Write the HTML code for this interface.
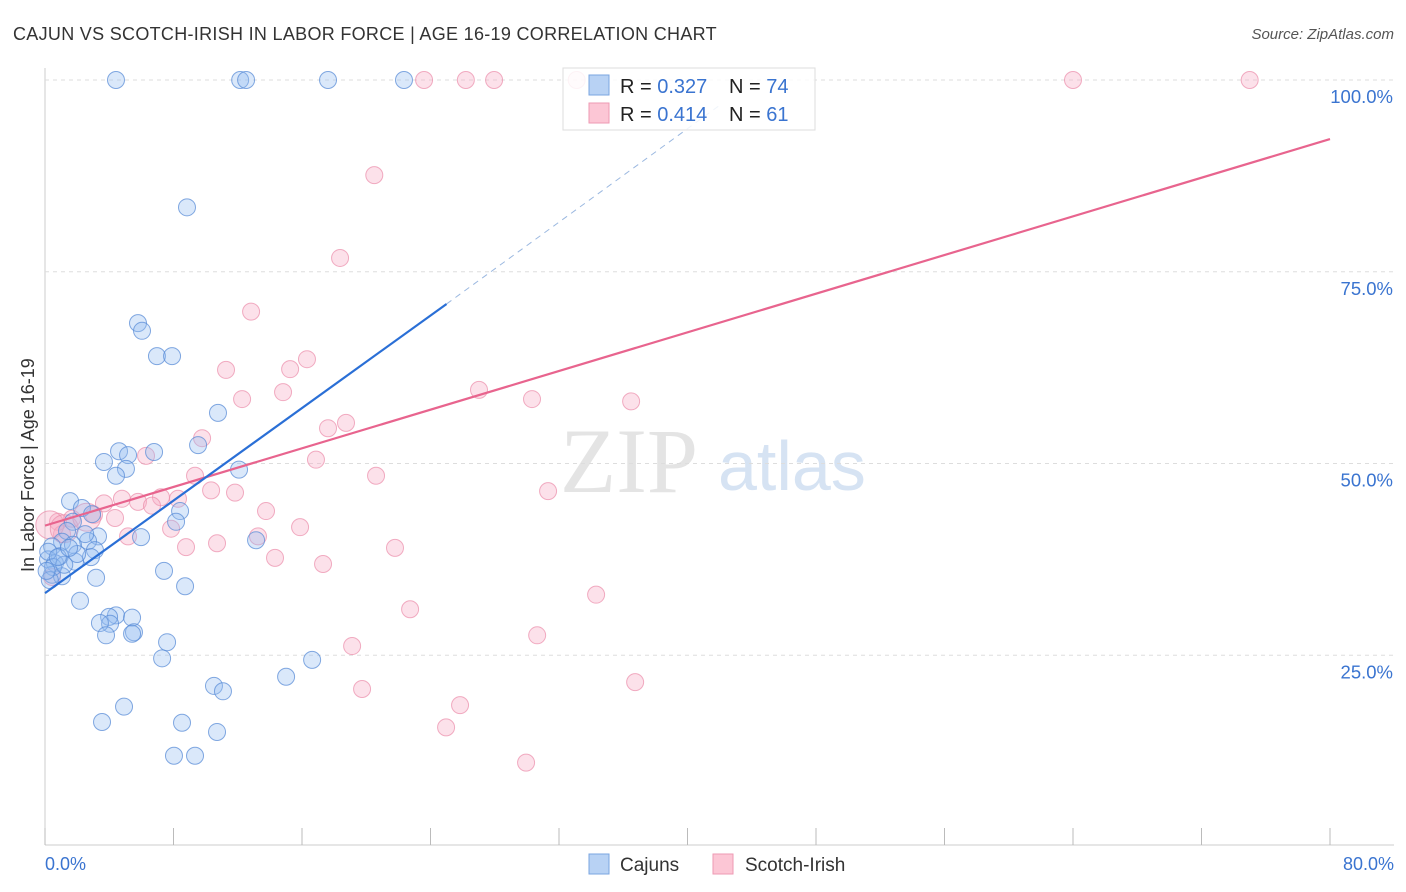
<!DOCTYPE html>
<html><head><meta charset="utf-8">
<style>
body{margin:0;background:#fff;font-family:"Liberation Sans",sans-serif;}
#wrap{position:relative;width:1406px;height:892px;overflow:hidden;}
</style></head>
<body>
<div id="wrap">
<svg id="chart" width="1406" height="892">
<text x="13" y="40" font-size="18" letter-spacing="0.3" fill="#333">CAJUN VS SCOTCH-IRISH IN LABOR FORCE | AGE 16-19 CORRELATION CHART</text>
<text x="1394" y="39" font-size="15" fill="#555" font-style="italic" text-anchor="end">Source: ZipAtlas.com</text>
<text x="560" y="492" font-size="92" fill="#e4e4e4" font-family="Liberation Serif,serif">ZIP</text>
<text x="718" y="490" font-size="70" fill="#d6e3f3">atlas</text>
<g id="grid"></g>
<g id="pts"></g>
<g id="lines"></g>
<text transform="translate(34,572) rotate(-90)" font-size="18" fill="#333">In Labor Force | Age 16-19</text>
<text x="45" y="870" font-size="18" fill="#3a74d0">0.0%</text>
<text x="1394" y="870" font-size="18" fill="#3a74d0" text-anchor="end">80.0%</text>
<g>
<rect x="563" y="68" width="252" height="62" fill="rgba(255,255,255,0.85)" stroke="#ddd"/>
<rect x="589" y="75" width="20" height="20" fill="#b8d2f4" stroke="#7aa5e0"/>
<rect x="589" y="103" width="20" height="20" fill="#fcc6d5" stroke="#ee9ab3"/>
<text x="620" y="93" font-size="20" fill="#222">R = <tspan fill="#3a74d0">0.327</tspan></text>
<text x="729" y="93" font-size="20" fill="#222">N = <tspan fill="#3a74d0">74</tspan></text>
<text x="620" y="121" font-size="20" fill="#222">R = <tspan fill="#3a74d0">0.414</tspan></text>
<text x="729" y="121" font-size="20" fill="#222">N = <tspan fill="#3a74d0"> 61</tspan></text>
</g>
<g>
<rect x="589" y="854" width="20" height="20" fill="#b8d2f4" stroke="#7aa5e0"/>
<text x="620" y="871" font-size="19" fill="#333">Cajuns</text>
<rect x="713" y="854" width="20" height="20" fill="#fcc6d5" stroke="#ee9ab3"/>
<text x="745" y="871" font-size="19" fill="#333">Scotch-Irish</text>
</g>
</svg>
</div>
<script>
const yTicks=[25,50,75,100];
const yTickLabels=["25.0%","50.0%","75.0%","100.0%"];
const xTicks=[0,8,16,24,32,40,48,56,64,72,80];
const cajunX=[4.42,12.15,12.52,17.62,22.35,8.84,5.79,6.04,6.97,7.91,10.77,9.53,4.61,6.79,5.17,3.67,5.04,12.08,4.42,1.56,2.30,2.93,8.41,8.16,1.74,1.37,3.30,5.98,1.06,2.68,13.14,1.74,0.44,3.11,2.86,0.93,0.19,1.87,0.62,0.44,1.06,3.18,7.41,8.72,2.18,4.42,3.99,4.05,5.42,3.42,5.54,3.80,5.42,7.60,7.29,16.63,15.01,10.52,11.08,4.92,3.55,8.53,10.71,8.03,9.34,0.2,0.5,1.2,0.3,2.0,0.8,0.1,1.5,2.5];
const cajunY=[100,100,100,100,100,83.4,68.3,67.3,64.0,64.0,56.6,52.4,51.6,51.5,51.1,50.2,49.3,49.2,48.4,45.1,44.2,43.4,43.8,42.4,42.4,41.2,40.5,40.4,39.8,39.9,40.0,39.4,39.2,38.7,37.8,37.9,37.5,37.2,37.0,35.5,35.3,35.1,36.0,34.0,32.1,30.2,30.0,29.1,29.9,29.2,28.0,27.6,27.8,26.7,24.6,24.4,22.2,21.0,20.3,18.3,16.3,16.2,15.0,11.9,11.9,38.5,36.5,36.8,34.8,38.2,37.8,36.0,39.0,40.8];
const scotchX=[23.6,26.2,27.96,33.1,64.0,75.0,20.5,18.37,12.83,16.31,15.26,11.27,27.02,14.82,12.27,30.32,36.49,18.74,17.62,9.78,6.29,16.87,20.61,9.34,10.34,31.32,11.83,4.79,7.22,8.28,5.79,3.67,6.66,13.76,3.05,4.36,1.68,0.81,15.88,7.85,1.06,5.17,13.26,10.71,8.78,21.79,14.32,17.31,0.44,34.31,22.73,30.64,19.12,36.74,19.74,25.84,24.97,29.95,0.3,1.2,2.6];
const scotchY=[100,100,100,100,100,100,87.6,76.8,69.8,63.6,62.3,62.2,59.6,59.3,58.4,58.4,58.1,55.3,54.6,53.3,51.0,50.5,48.4,48.4,46.5,46.4,46.2,45.4,45.6,45.4,45.0,44.8,44.5,43.8,43.3,42.9,42.8,42.4,41.7,41.5,40.8,40.5,40.5,39.6,39.1,39.0,37.7,36.9,35.2,32.9,31.0,27.6,26.2,21.5,20.6,18.5,15.6,11.0,42.0,41.5,43.0];
const cajunLineX=[0,25],cajunLineY=[33.1,70.8];
const cajunDashX=[25,42],cajunDashY=[70.8,96.7];
const scotchLineX=[0,80],scotchLineY=[41.9,92.3];
const X=v=>45+v/80*1285;
const Y=v=>847-v*7.67;
const NS="http://www.w3.org/2000/svg";
function mk(tag,attrs,parent){const e=document.createElementNS(NS,tag);for(const k in attrs)e.setAttribute(k,attrs[k]);parent.appendChild(e);return e;}
const grid=document.getElementById('grid'),pts=document.getElementById('pts'),lines=document.getElementById('lines');
mk('line',{x1:45,y1:68,x2:45,y2:845,stroke:'#ccc'},grid);
mk('line',{x1:45,y1:845,x2:1394,y2:845,stroke:'#ccc'},grid);
mk('line',{x1:45,y1:80,x2:1394,y2:80,stroke:'#ddd','stroke-dasharray':'4,4'},grid);
yTicks.forEach((t,i)=>{
 const l=mk('line',{x1:45,y1:Y(t),x2:1394,y2:Y(t),stroke:'#ddd','stroke-dasharray':'4,4'},grid);
 
 
 const tx=mk('text',{x:1393,y:Y(t)+23,'font-size':18.5,fill:'#3a74d0','text-anchor':'end'},grid);
 tx.textContent=yTickLabels[i];
 
 
});
xTicks.forEach(t=>{
 const l=mk('line',{x1:X(t),y1:828,x2:X(t),y2:845,stroke:'#bbb'},grid);
 
 
});
scotchX.forEach((v,i)=>{
 const r=(i>=58)?14:8.5;
 const c=mk('circle',{cx:X(v),cy:Y(scotchY[i]),r:r,fill:'rgba(245,170,195,0.35)',stroke:'rgba(235,140,170,0.7)','stroke-width':1},pts);
 
 
});
cajunX.forEach((v,i)=>{
 const c=mk('circle',{cx:X(v),cy:Y(cajunY[i]),r:8.5,fill:'rgba(150,190,240,0.35)',stroke:'rgba(90,140,215,0.75)','stroke-width':1},pts);
 
 
});
let l1=mk('line',{x1:X(scotchLineX[0]),y1:Y(scotchLineY[0]),x2:X(scotchLineX[1]),y2:Y(scotchLineY[1]),stroke:'#e8648e','stroke-width':2.2},lines);


let l2=mk('line',{x1:X(cajunLineX[0]),y1:Y(cajunLineY[0]),x2:X(cajunLineX[1]),y2:Y(cajunLineY[1]),stroke:'#2a6fd6','stroke-width':2.2},lines);


let l3=mk('line',{x1:X(cajunDashX[0]),y1:Y(cajunDashY[0]),x2:X(cajunDashX[1]),y2:Y(cajunDashY[1]),stroke:'#9bb8e0','stroke-width':1,'stroke-dasharray':'6,5'},lines);


</script>
</body></html>
